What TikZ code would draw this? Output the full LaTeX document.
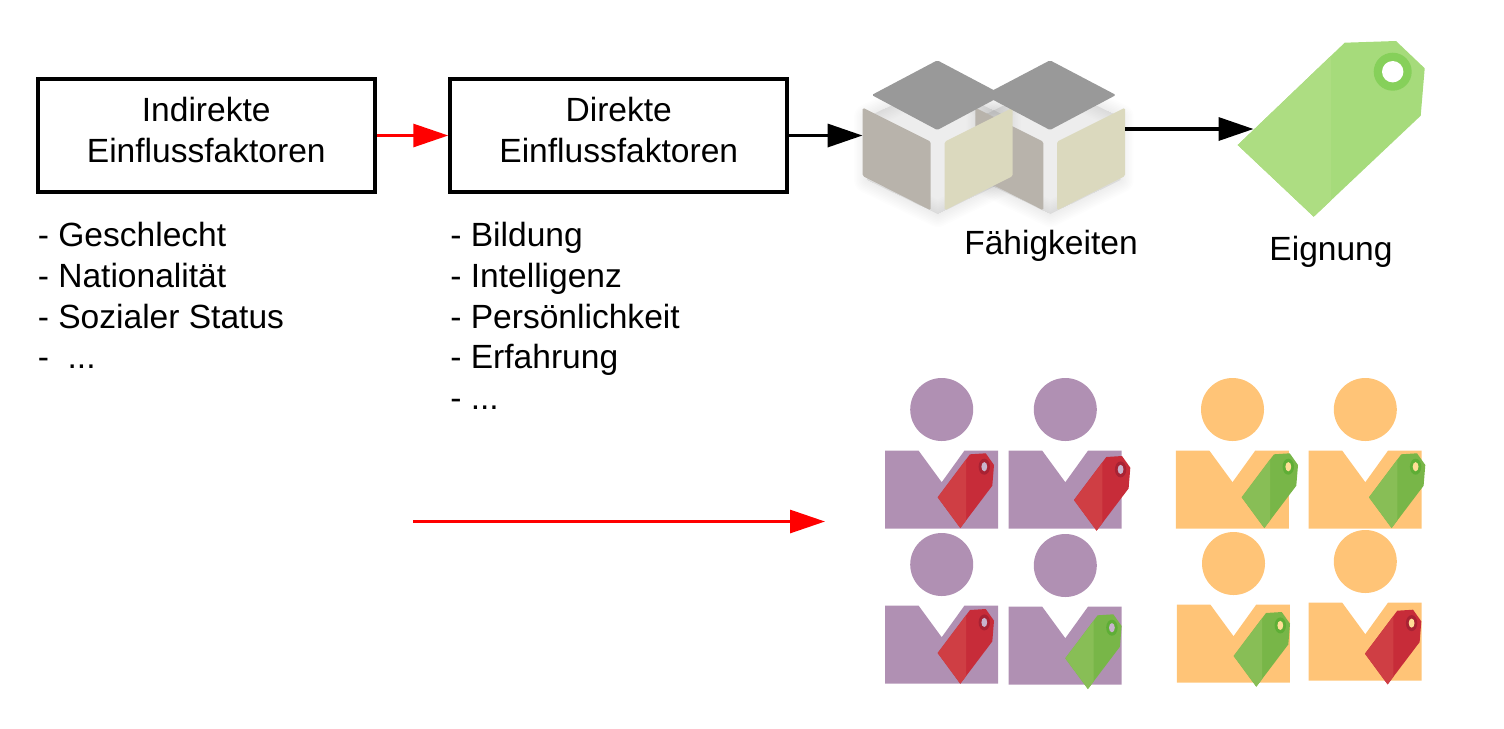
\documentclass[tikz,border=0pt]{standalone}
\usepackage{fontspec}
\setmainfont{Liberation Sans}
\usetikzlibrary{arrows.meta}
\definecolor{personviolet}{HTML}{B090B3}
\definecolor{personorange}{HTML}{FFC477}
\definecolor{cubetop}{HTML}{999999}
\definecolor{cubeleft}{HTML}{B8B3AB}
\definecolor{cuberight}{HTML}{DBD9BE}
\definecolor{biglight}{HTML}{ADDD82}
\definecolor{bigdark}{HTML}{A6DB7B}
\definecolor{bigring}{HTML}{86D05A}
\definecolor{redlight}{HTML}{CF3E44}
\definecolor{reddark}{HTML}{C72C39}
\definecolor{redring}{HTML}{A82233}
\definecolor{greenlight}{HTML}{88BE56}
\definecolor{greendark}{HTML}{78B648}
\definecolor{greenring}{HTML}{5EAE36}
\definecolor{holeviolet}{HTML}{C8B4CD}
\definecolor{holeorange}{HTML}{FFDE96}
\tikzset{
  factorbox/.style={draw=black,line width=0.08cm,fill=white,minimum width=6.74cm,minimum height=2.26cm,align=center,inner sep=0pt,font=\fontsize{19.1}{23.2}\selectfont},
  listtext/.style={anchor=north west,align=left,inner sep=0pt,font=\fontsize{19.1}{23.2}\selectfont},
  figlabel/.style={anchor=base,inner sep=0pt,font=\fontsize{19.1}{23.2}\selectfont},
  redarrow/.style={draw=red,line width=0.06cm,-{Triangle[length=0.7cm,width=0.46cm]}},
  blackarrow/.style={draw=black,line width=0.07cm,-{Triangle[length=0.7cm,width=0.46cm]}},
  face/.style={rounded corners=0.03cm},
  person/.pic={
    \fill[pic actions] (0,0) circle [radius=31.5];
    \fill[pic actions] (-56.7,41) -- (-23.2,41) -- (0,72.7) -- (22.8,41) -- (56.3,41) -- (56.3,119) -- (-56.7,119) -- cycle;
  }
}
\newcommand{\smalltag}[5]{
  \begin{scope}[shift={(#1)}]
    \fill[#3] (0,0) -- (32.3,-43) -- (48,-44) -- (56.3,-32.3) -- (54.6,-11.6) -- (22.6,30.7) -- cycle;
    \fill[#2] (0,0) -- (28.3,-37.7) -- (28.3,23.2) -- (22.6,30.7) -- cycle;
    \fill[#4] (46.6,-30.6) ellipse [x radius=5.7,y radius=8];
    \fill[#5] (46.6,-30.6) ellipse [x radius=2.9,y radius=4.6];
  \end{scope}
}
\newcommand{\cubeshadow}[1]{
  \begin{scope}[shift={(#1)}]
    \foreach \w in {2,5,...,26} {
      \draw[black,fill=black,opacity=0.008,line width=\w*0.2mm,line join=round] (867,117) -- (937.3,84) -- (1008,117) -- (1008,180) -- (937.7,214) -- (867,180) -- cycle;
    }
  \end{scope}
}
\begin{document}
\begin{tikzpicture}[x=0.02cm,y=-0.02cm]
\useasboundingbox (0,0) rectangle (1504,728);

\node[factorbox] (indirect) at (206.25,135.5) {Indirekte\\Einflussfaktoren\\[-0.574cm]};
\node[factorbox] (direct) at (618.75,135.5) {Direkte\\Einflussfaktoren\\[-0.574cm]};
\node[listtext] (indirectlist) at (37.5,222) {- Geschlecht\\- Nationalität\\- Sozialer Status\\-\ \ ...};
\node[listtext] (directlist) at (450,222) {- Bildung\\- Intelligenz\\- Persönlichkeit\\- Erfahrung\\- ...};
\node[figlabel] (abilities) at (1051,254.5) {Fähigkeiten};
\node[figlabel] (suitability) at (1331,260.5) {Eignung};

\cubeshadow{0,0}
\cubeshadow{112.6,0}
\fill[cubeleft,face] (975.3,107.7) -- (1043.3,141.7) -- (1043.3,210.3) -- (975.3,176) -- cycle;
\fill[cuberight,face] (1057,141.7) -- (1125,107.7) -- (1125,176) -- (1057,210.3) -- cycle;
\fill[cubeleft,face] (862.7,107.7) -- (930.7,141.7) -- (930.7,210.3) -- (862.7,176) -- cycle;
\fill[cuberight,face] (944.7,141.7) -- (1012.7,107.7) -- (1012.7,176) -- (944.7,210.3) -- cycle;
\fill[cubetop,face] (1050,60.3) -- (1116,95) -- (1050,130) -- (984,95) -- cycle;
\fill[cubetop,face] (937.3,60.3) -- (1003,95) -- (937.3,130) -- (871.7,95) -- cycle;

\fill[bigdark] (1344.7,42.7) -- (1396,41) -- (1424.7,68.3) -- (1420.7,115.7) -- (1313.7,216.7) -- (1237.7,145) -- cycle;
\fill[biglight] (1237.7,145) -- (1331,55.8) -- (1331,200.4) -- (1313.7,216.7) -- cycle;
\fill[bigring] (1392.7,71.7) circle [radius=19];
\fill[white] (1392.7,71.7) circle [radius=10.7];

\coordinate (cubesin) at (862.5,135.5);
\coordinate (cubesout) at (1125,129);
\coordinate (tagin) at (1253.5,129);
\coordinate (arrowstart) at (413,521.5);
\coordinate (arrowend) at (825,521.5);

\draw[redarrow] (indirect.east) -- (direct.west);
\draw[blackarrow] (direct.east) -- (cubesin);
\draw[blackarrow] (cubesout) -- (tagin);
\draw[redarrow] (arrowstart) -- (arrowend);

\pic[fill=personviolet] at (941.7,409.5) {person};
\pic[fill=personviolet] at (1065.3,409.5) {person};
\pic[fill=personorange] at (1232.5,409.5) {person};
\pic[fill=personorange] at (1365.3,409.5) {person};
\pic[fill=personviolet] at (941.7,564.5) {person};
\pic[fill=personviolet] at (1065.3,565.5) {person};
\pic[fill=personorange] at (1233.5,563.5) {person};
\pic[fill=personorange] at (1365.3,561.5) {person};

\smalltag{937.7,497.3}{redlight}{reddark}{redring}{holeviolet}
\smalltag{1074,500}{redlight}{reddark}{redring}{holeviolet}
\smalltag{1241.7,497.3}{greenlight}{greendark}{greenring}{holeorange}
\smalltag{1369,497.3}{greenlight}{greendark}{greenring}{holeorange}
\smalltag{937.7,653}{redlight}{reddark}{redring}{holeviolet}
\smalltag{1065.3,658.3}{greenlight}{greendark}{greenring}{holeviolet}
\smalltag{1233.7,656}{greenlight}{greendark}{greenring}{holeorange}
\smalltag{1365,653.7}{redlight}{reddark}{redring}{holeorange}
\end{tikzpicture}
\end{document}
